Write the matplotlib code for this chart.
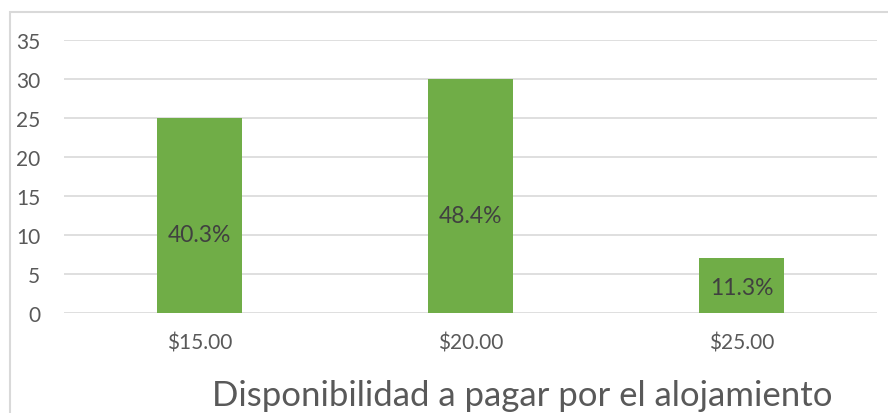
import matplotlib
matplotlib.use("Agg")
import matplotlib.pyplot as plt
from matplotlib.patches import Rectangle

categories = ["$15.00", "$20.00", "$25.00"]
values = [25, 30, 7]
labels = ["40.3%", "48.4%", "11.3%"]
label_y = [10.0, 12.5, 3.3]
yticks = [0, 5, 10, 15, 20, 25, 30, 35]
title = "Disponibilidad a pagar por el alojamiento"

plt.rcParams['font.family'] = ['Lato', 'DejaVu Sans']

W, H = 888, 414
fig = plt.figure(figsize=(W / 100, H / 100), dpi=100)

# chart frame
fig.patches.append(Rectangle((10 / W, -0.1), 1.2, 1 - 13 / H + 0.1,
                             transform=fig.transFigure, fill=False,
                             edgecolor="#d9d9d9", linewidth=1.5))

x0, x1 = 64, 877
y0, y1 = 314, 41
ax = fig.add_axes([x0 / W, 1 - y0 / H, (x1 - x0) / W, (y0 - y1) / H])
xs = list(range(len(categories)))
ax.bar(xs, values, width=0.314, color="#70ad47", zorder=3)
ax.set_xlim(-0.5, len(categories) - 0.5)
ax.set_ylim(0, 35)
ax.set_yticks(yticks)
ax.set_xticks(xs)
ax.set_xticklabels(categories)
for s in ax.spines.values():
    s.set_visible(False)
ax.grid(axis="y", color="#d9d9d9", linewidth=1.2, zorder=0)
ax.tick_params(axis="both", length=0, colors="#595959", labelsize=15)
ax.tick_params(axis="y", pad=17)
ax.tick_params(axis="x", pad=14)
for x, ly, t in zip(xs, label_y, labels):
    ax.text(x, ly, t, ha="center", va="center", fontsize=16.5, color="#404040", zorder=4)

fig.text(522 / W, 1 - 396 / H, title, ha="center", va="center", fontsize=25, color="#595959")

fig.savefig("out.png", dpi=100)
